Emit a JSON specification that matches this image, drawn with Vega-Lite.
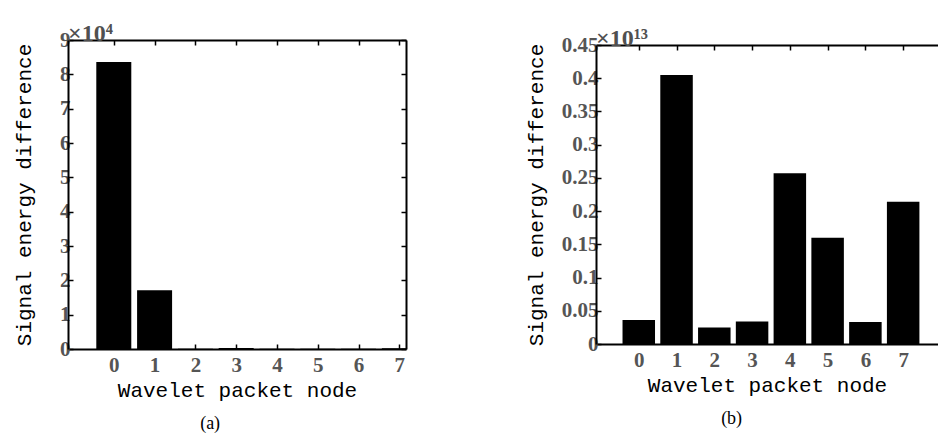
{
  "$schema": "https://vega.github.io/schema/vega-lite/v6.json",
  "autosize": {"type": "pad"},
  "padding": {"left": 13, "top": 22, "right": 0, "bottom": 0},
  "background": "white",
  "spacing": 118,
  "center": true,
  "config": {
    "view": {"stroke": null},
    "axis": {
      "labelFont": "Liberation Serif",
      "labelFontWeight": "bold",
      "labelFontSize": 21,
      "labelColor": "#555555",
      "titleFont": "Liberation Mono",
      "titleFontSize": 21,
      "titleFontWeight": "normal",
      "titleColor": "black",
      "domainColor": "black",
      "domainWidth": 2,
      "tickColor": "black",
      "tickWidth": 1.5,
      "tickSize": -5,
      "grid": false
    },
    "title": {"font": "Liberation Serif", "fontSize": 18, "fontWeight": "normal", "color": "black"}
  },
  "hconcat": [
    {
      "title": {"text": "(a)", "orient": "bottom", "anchor": "middle", "offset": 15},
      "vconcat": [
        {
          "title": {"text": "×10⁴", "anchor": "start", "frame": "group", "font": "Liberation Serif", "fontSize": 24, "fontWeight": "bold", "color": "#505050", "baseline": "alphabetic", "offset": -36},
          "width": 338,
          "height": 309,
          "data": {"values": [
            {"node": 0, "value": 8.36},
            {"node": 1, "value": 1.71},
            {"node": 2, "value": 0.01},
            {"node": 3, "value": 0.03},
            {"node": 4, "value": 0.01},
            {"node": 5, "value": 0.01},
            {"node": 6, "value": 0.01},
            {"node": 7, "value": 0.02}
          ]},
          "layer": [
            {
              "mark": {"type": "bar", "size": 35, "color": "black", "clip": true},
              "encoding": {
                "x": {"field": "node", "type": "quantitative", "scale": {"domain": [-1, 7.04], "nice": false, "zero": false},
                  "axis": {"orient": "bottom", "values": [0, 1, 2, 3, 4, 5, 6, 7], "title": "Wavelet packet node", "labelPadding": 10, "titlePadding": 4}},
                "y": {"field": "value", "type": "quantitative", "scale": {"domain": [0, 9], "nice": false},
                  "axis": {"orient": "left", "values": [0, 1, 2, 3, 4, 5, 6, 7, 8, 9], "title": "Signal energy difference", "labelPadding": 3, "titlePadding": 25}}
              }
            },
            {
              "mark": {"type": "point", "opacity": 0},
              "encoding": {
                "x": {"field": "node", "type": "quantitative", "scale": {"domain": [-1, 7.04], "nice": false, "zero": false},
                  "axis": {"orient": "top", "values": [0, 1, 2, 3, 4, 5, 6, 7], "labels": false, "title": null}},
                "y": {"field": "value", "type": "quantitative", "scale": {"domain": [0, 9], "nice": false},
                  "axis": {"orient": "right", "values": [0, 1, 2, 3, 4, 5, 6, 7, 8, 9], "labels": false, "title": null}}
              }
            }
          ],
          "resolve": {"axis": {"x": "independent", "y": "independent"}}
        }
      ]
    },
    {
      "title": {"text": "(b)", "orient": "bottom", "anchor": "middle", "offset": 15},
      "vconcat": [
        {
          "title": {"text": "×10¹³", "anchor": "start", "frame": "group", "font": "Liberation Serif", "fontSize": 24, "fontWeight": "bold", "color": "#505050", "baseline": "alphabetic", "offset": -36},
          "width": 342,
          "height": 299,
          "data": {"values": [
            {"node": 0, "value": 0.036},
            {"node": 1, "value": 0.405},
            {"node": 2, "value": 0.025},
            {"node": 3, "value": 0.034},
            {"node": 4, "value": 0.257},
            {"node": 5, "value": 0.16},
            {"node": 6, "value": 0.033},
            {"node": 7, "value": 0.214}
          ]},
          "layer": [
            {
              "mark": {"type": "bar", "size": 32.5, "color": "black", "clip": true},
              "encoding": {
                "x": {"field": "node", "type": "quantitative", "scale": {"domain": [-1, 7.79], "nice": false, "zero": false},
                  "axis": {"orient": "bottom", "values": [0, 1, 2, 3, 4, 5, 6, 7], "title": "Wavelet packet node", "labelPadding": 10, "titlePadding": 4}},
                "y": {"field": "value", "type": "quantitative", "scale": {"domain": [0, 0.45], "nice": false},
                  "axis": {"orient": "left", "values": [0, 0.05, 0.1, 0.15, 0.2, 0.25, 0.3, 0.35, 0.4, 0.45], "format": ".2~f", "title": "Signal energy difference", "labelPadding": 3, "titlePadding": 15}}
              }
            },
            {
              "mark": {"type": "point", "opacity": 0},
              "encoding": {
                "x": {"field": "node", "type": "quantitative", "scale": {"domain": [-1, 7.79], "nice": false, "zero": false},
                  "axis": {"orient": "top", "values": [0, 1, 2, 3, 4, 5, 6, 7], "labels": false, "title": null}}
              }
            }
          ],
          "resolve": {"axis": {"x": "independent", "y": "independent"}}
        }
      ]
    }
  ]
}
